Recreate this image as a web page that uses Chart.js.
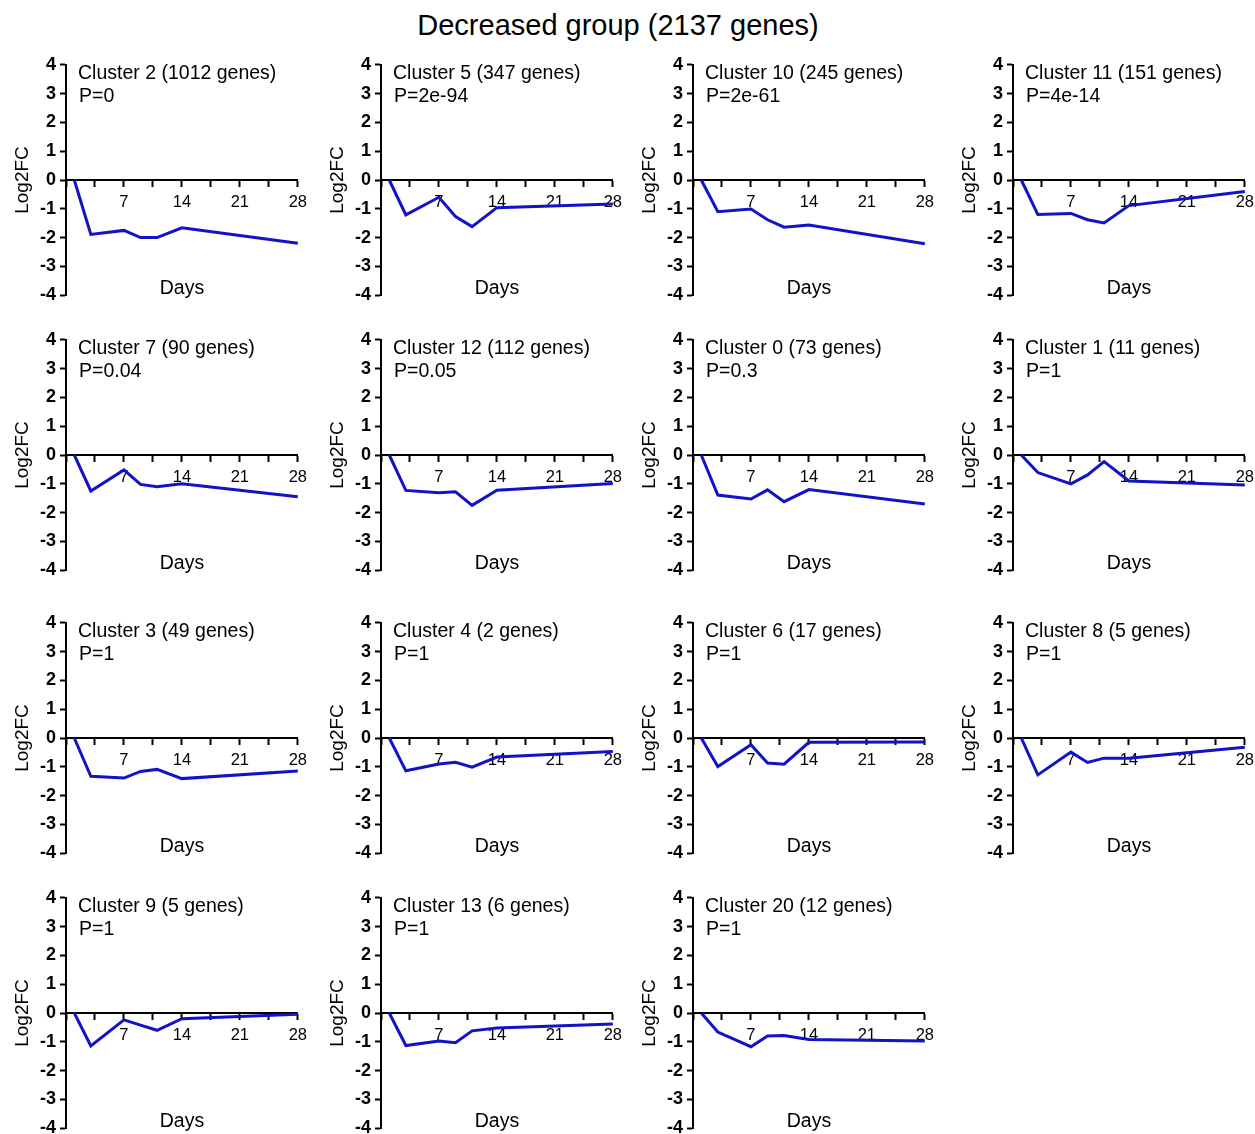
<!DOCTYPE html>
<html><head><meta charset="utf-8">
<script src="https://cdn.jsdelivr.net/npm/chart.js@4.4.1/dist/chart.umd.min.js"></script>
<style>
html,body{margin:0;padding:0;background:#fff;}
body{width:1255px;height:1134px;overflow:hidden;position:relative;font-family:"Liberation Sans",Arial,sans-serif;}
#title{position:absolute;left:0;top:8px;width:1236px;text-align:center;font-size:29px;line-height:34px;color:#000;}
canvas{position:absolute;}
</style></head><body>
<div id="title">Decreased group (2137 genes)</div>
<script>
// ---- data ----
const days = [1, 3, 7, 9, 11, 14, 28];
const xTickLabels = [7, 14, 21, 28];
const clusterIds = [2, 5, 10, 11, 7, 12, 0, 1, 3, 4, 6, 8, 9, 13, 20];
const geneCounts = [1012, 347, 245, 151, 90, 112, 73, 11, 49, 2, 17, 5, 5, 6, 12];
const pValues = ['0', '2e-94', '2e-61', '4e-14', '0.04', '0.05', '0.3', '1', '1', '1', '1', '1', '1', '1', '1'];

const cluster2  = [0, -1.89, -1.75, -2.00, -2.00, -1.66, -2.20];
const cluster5  = [0, -1.21, -0.60, -1.27, -1.62, -0.96, -0.83];
const cluster10 = [0, -1.10, -1.01, -1.38, -1.64, -1.56, -2.21];
const cluster11 = [0, -1.20, -1.16, -1.38, -1.49, -0.89, -0.40];
const cluster7  = [0, -1.25, -0.52, -1.02, -1.10, -1.00, -1.45];
const cluster12 = [0, -1.23, -1.31, -1.28, -1.75, -1.22, -0.99];
const cluster0  = [0, -1.39, -1.53, -1.21, -1.62, -1.20, -1.70];
const cluster1  = [0, -0.61, -1.00, -0.69, -0.23, -0.90, -1.04];
const cluster3  = [0, -1.33, -1.39, -1.16, -1.09, -1.41, -1.15];
const cluster4  = [0, -1.14, -0.90, -0.84, -1.01, -0.66, -0.47];
const cluster6  = [0, -0.99, -0.23, -0.87, -0.91, -0.15, -0.14];
const cluster8  = [0, -1.28, -0.49, -0.85, -0.70, -0.70, -0.32];
const cluster9  = [0, -1.14, -0.24, -0.42, -0.60, -0.20, -0.04];
const cluster13 = [0, -1.13, -0.97, -1.03, -0.62, -0.52, -0.38];
const cluster20 = [0, -0.66, -1.17, -0.80, -0.78, -0.92, -0.97];

const seriesList = [cluster2, cluster5, cluster10, cluster11, cluster7, cluster12, cluster0, cluster1,
                    cluster3, cluster4, cluster6, cluster8, cluster9, cluster13, cluster20];

// ---- layout ----
const colAxisX = [66, 381, 693, 1013];
const rowTop = [64, 339, 622, 897];
const AXIS_W = 66, PAD_T = 14, PAD_R = 10, PAD_B = 6, AREA = 231;
const EXTRA_W = 7, EXTRA_H = 9;
const FONT = '"Liberation Sans", Arial, sans-serif';
const LINE_COLOR = '#1212C8';

const textPlugin = {
  id: 'panelText',
  afterDraw(chart) {
    const o = chart.options.plugins.panelText;
    const ctx = chart.ctx, a = chart.chartArea;
    ctx.save();
    ctx.fillStyle = '#000';
    ctx.font = '19.5px ' + FONT;
    ctx.textBaseline = 'middle';
    ctx.textAlign = 'left';
    ctx.fillText(o.title, a.left + 12, a.top + 9);
    ctx.fillText('P=' + o.p, a.left + 13, a.top + 32);
    ctx.textAlign = 'center';
    ctx.fillText('Days', (a.left + a.right) / 2, a.top + 224);
    ctx.restore();
  }
};

seriesList.forEach((vals, i) => {
  const col = i % 4, row = Math.floor(i / 4);
  const cv = document.createElement('canvas');
  const w = AXIS_W + AREA + PAD_R + EXTRA_W, h = PAD_T + AREA + PAD_B + EXTRA_H;
  cv.width = w; cv.height = h;
  cv.style.width = w + 'px'; cv.style.height = h + 'px';
  cv.style.left = (colAxisX[col] - AXIS_W) + 'px';
  cv.style.top = (rowTop[row] - PAD_T) + 'px';
  document.body.appendChild(cv);

  new Chart(cv, {
    type: 'line',
    data: {
      datasets: [{
        data: days.map((d, k) => ({x: d, y: vals[k]})),
        borderColor: LINE_COLOR,
        borderWidth: 3,
        pointRadius: 0,
        fill: false,
        tension: 0,
        clip: false
      }]
    },
    options: {
      responsive: false,
      animation: false,
      devicePixelRatio: 1,
      layout: {padding: {top: PAD_T, right: PAD_R, bottom: PAD_B, left: 0}},
      plugins: {
        legend: {display: false},
        tooltip: {enabled: false},
        panelText: {title: 'Cluster ' + clusterIds[i] + ' (' + geneCounts[i] + ' genes)', p: pValues[i]}
      },
      scales: {
        x: {
          type: 'linear', min: 0, max: 28, position: {y: 0},
          ticks: {stepSize: 3.5, autoSkip: false, maxRotation: 0, padding: 7, color: '#000',
                  font: {size: 16.5, family: FONT},
                  callback: v => xTickLabels.includes(v) ? String(v) : ''},
          grid: {drawOnChartArea: false, drawTicks: true, tickLength: 6, color: '#000', tickWidth: 2},
          border: {color: '#000', width: 2},
          afterFit: s => { s.height = 0; }
        },
        y: {
          min: -4, max: 4,
          ticks: {stepSize: 1, color: '#000', padding: 4, font: {size: 18, weight: 'bold', family: FONT}},
          grid: {drawOnChartArea: false, drawTicks: true, tickLength: 6, color: '#000', tickWidth: 2},
          border: {color: '#000', width: 2},
          title: {display: true, text: 'Log2FC', color: '#000', font: {size: 19, family: FONT}, padding: {top: 11, bottom: 0}},
          afterFit: s => { s.width = AXIS_W; }
        }
      }
    },
    plugins: [textPlugin]
  });
});
</script>
</body></html>
